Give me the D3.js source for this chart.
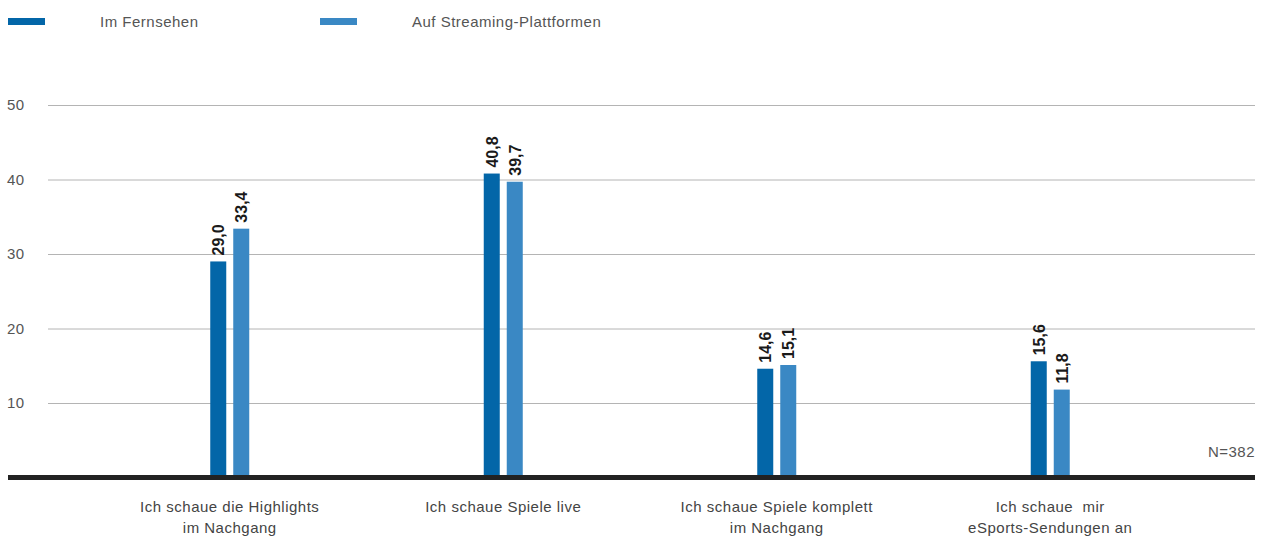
<!DOCTYPE html>
<html>
<head>
<meta charset="utf-8">
<script src="https://cdn.jsdelivr.net/npm/d3@7"></script>
<style>
  body { margin: 0; background: #fff; }
  text { font-family: "Liberation Sans", Arial, sans-serif; }
</style>
</head>
<body>
<div id="chart"></div>
<script>
const categories = [
  ['Ich schaue die Highlights', 'im Nachgang'],
  ['Ich schaue Spiele live'],
  ['Ich schaue Spiele komplett', 'im Nachgang'],
  ['Ich schaue  mir', 'eSports-Sendungen an']
];
const seriesNames = ['Im Fernsehen', 'Auf Streaming-Plattformen'];
const tvValues = [29.0, 40.8, 14.6, 15.6];
const streamValues = [33.4, 39.7, 15.1, 11.8];
const yTickValues = [10, 20, 30, 40, 50];
const colors = ['#0366a8', '#3a88c4'];

const width = 1263, height = 538;

const svg = d3.select('#chart').append('svg')
  .attr('width', width)
  .attr('height', height);

const yScale = d3.scaleLinear()
  .domain([0, 50])
  .range([477.5, 105]);

const xScale = d3.scaleBand()
  .domain(d3.range(categories.length))
  .range([93, 1187])
  .padding(0);

// two bars per group, 16px wide with a 7px gap
const inner = d3.scaleBand()
  .domain([0, 1])
  .range([-19.5, 19.5])
  .paddingInner(7 / 23)
  .paddingOuter(0);

// gridlines
const yAxis = d3.axisLeft(yScale)
  .tickValues(yTickValues)
  .tickSize(-(1255 - 48))
  .tickFormat(d3.format('d'));

const yAxisG = svg.append('g')
  .attr('transform', 'translate(48,0)')
  .call(yAxis);
yAxisG.select('.domain').remove();
yAxisG.selectAll('line').attr('stroke', '#b4b4b4').attr('stroke-width', 1);
yAxisG.selectAll('text')
  .attr('fill', '#555')
  .style('font-size', '15px')
  .style('letter-spacing', '0.5px')
  .attr('text-anchor', 'start')
  .attr('x', -41);

// bars
const groups = svg.selectAll('.group')
  .data(categories.map((c, i) => ({ i, vals: [tvValues[i], streamValues[i]] })))
  .enter().append('g')
  .attr('class', 'group')
  .attr('transform', d => `translate(${xScale(d.i) + xScale.bandwidth() / 2},0)`);

groups.selectAll('rect')
  .data(d => d.vals.map((v, k) => ({ v, k })))
  .enter().append('rect')
  .attr('x', d => inner(d.k))
  .attr('width', inner.bandwidth())
  .attr('y', d => yScale(d.v))
  .attr('height', d => yScale(0) - yScale(d.v))
  .attr('fill', d => colors[d.k]);

groups.selectAll('.val')
  .data(d => d.vals.map((v, k) => ({ v, k })))
  .enter().append('text')
  .attr('class', 'val')
  .attr('transform', d => `translate(${inner(d.k) + inner.bandwidth() / 2 + 6},${yScale(d.v) - 6}) rotate(-90)`)
  .attr('fill', '#1a1a1a')
  .style('font-size', '16px')
  .style('font-weight', 'bold')
  .text(d => d.v.toFixed(1).replace('.', ','));

// baseline
svg.append('line')
  .attr('x1', 8).attr('x2', 1255)
  .attr('y1', yScale(0)).attr('y2', yScale(0))
  .attr('stroke', '#222')
  .attr('stroke-width', 5);

// category labels
const catLabels = svg.selectAll('.cat')
  .data(categories)
  .enter().append('text')
  .attr('class', 'cat')
  .attr('text-anchor', 'middle')
  .attr('fill', '#444')
  .style('font-size', '15px')
  .style('letter-spacing', '0.5px')
  .attr('x', (d, i) => xScale(i) + xScale.bandwidth() / 2)
  .attr('y', 512);

catLabels.selectAll('tspan')
  .data(d => d)
  .enter().append('tspan')
  .attr('x', function() { return d3.select(this.parentNode).attr('x'); })
  .attr('dy', (d, j) => j === 0 ? 0 : 21)
  .style('white-space', 'pre')
  .text(d => d);

// N
svg.append('text')
  .attr('x', 1255)
  .attr('y', 457)
  .attr('text-anchor', 'end')
  .attr('fill', '#555')
  .style('font-size', '15px')
  .style('letter-spacing', '0.5px')
  .text('N=382');

// legend
const legend = svg.selectAll('.legend')
  .data(seriesNames)
  .enter().append('g')
  .attr('class', 'legend')
  .attr('transform', (d, i) => `translate(${8 + i * 312},0)`);

legend.append('rect')
  .attr('x', 0).attr('y', 18)
  .attr('width', 37).attr('height', 7)
  .attr('fill', (d, i) => colors[i]);

legend.append('text')
  .attr('x', 92)
  .attr('y', 27)
  .attr('fill', '#555')
  .style('font-size', '15px')
  .style('letter-spacing', '0.5px')
  .text(d => d);
</script>
</body>
</html>
